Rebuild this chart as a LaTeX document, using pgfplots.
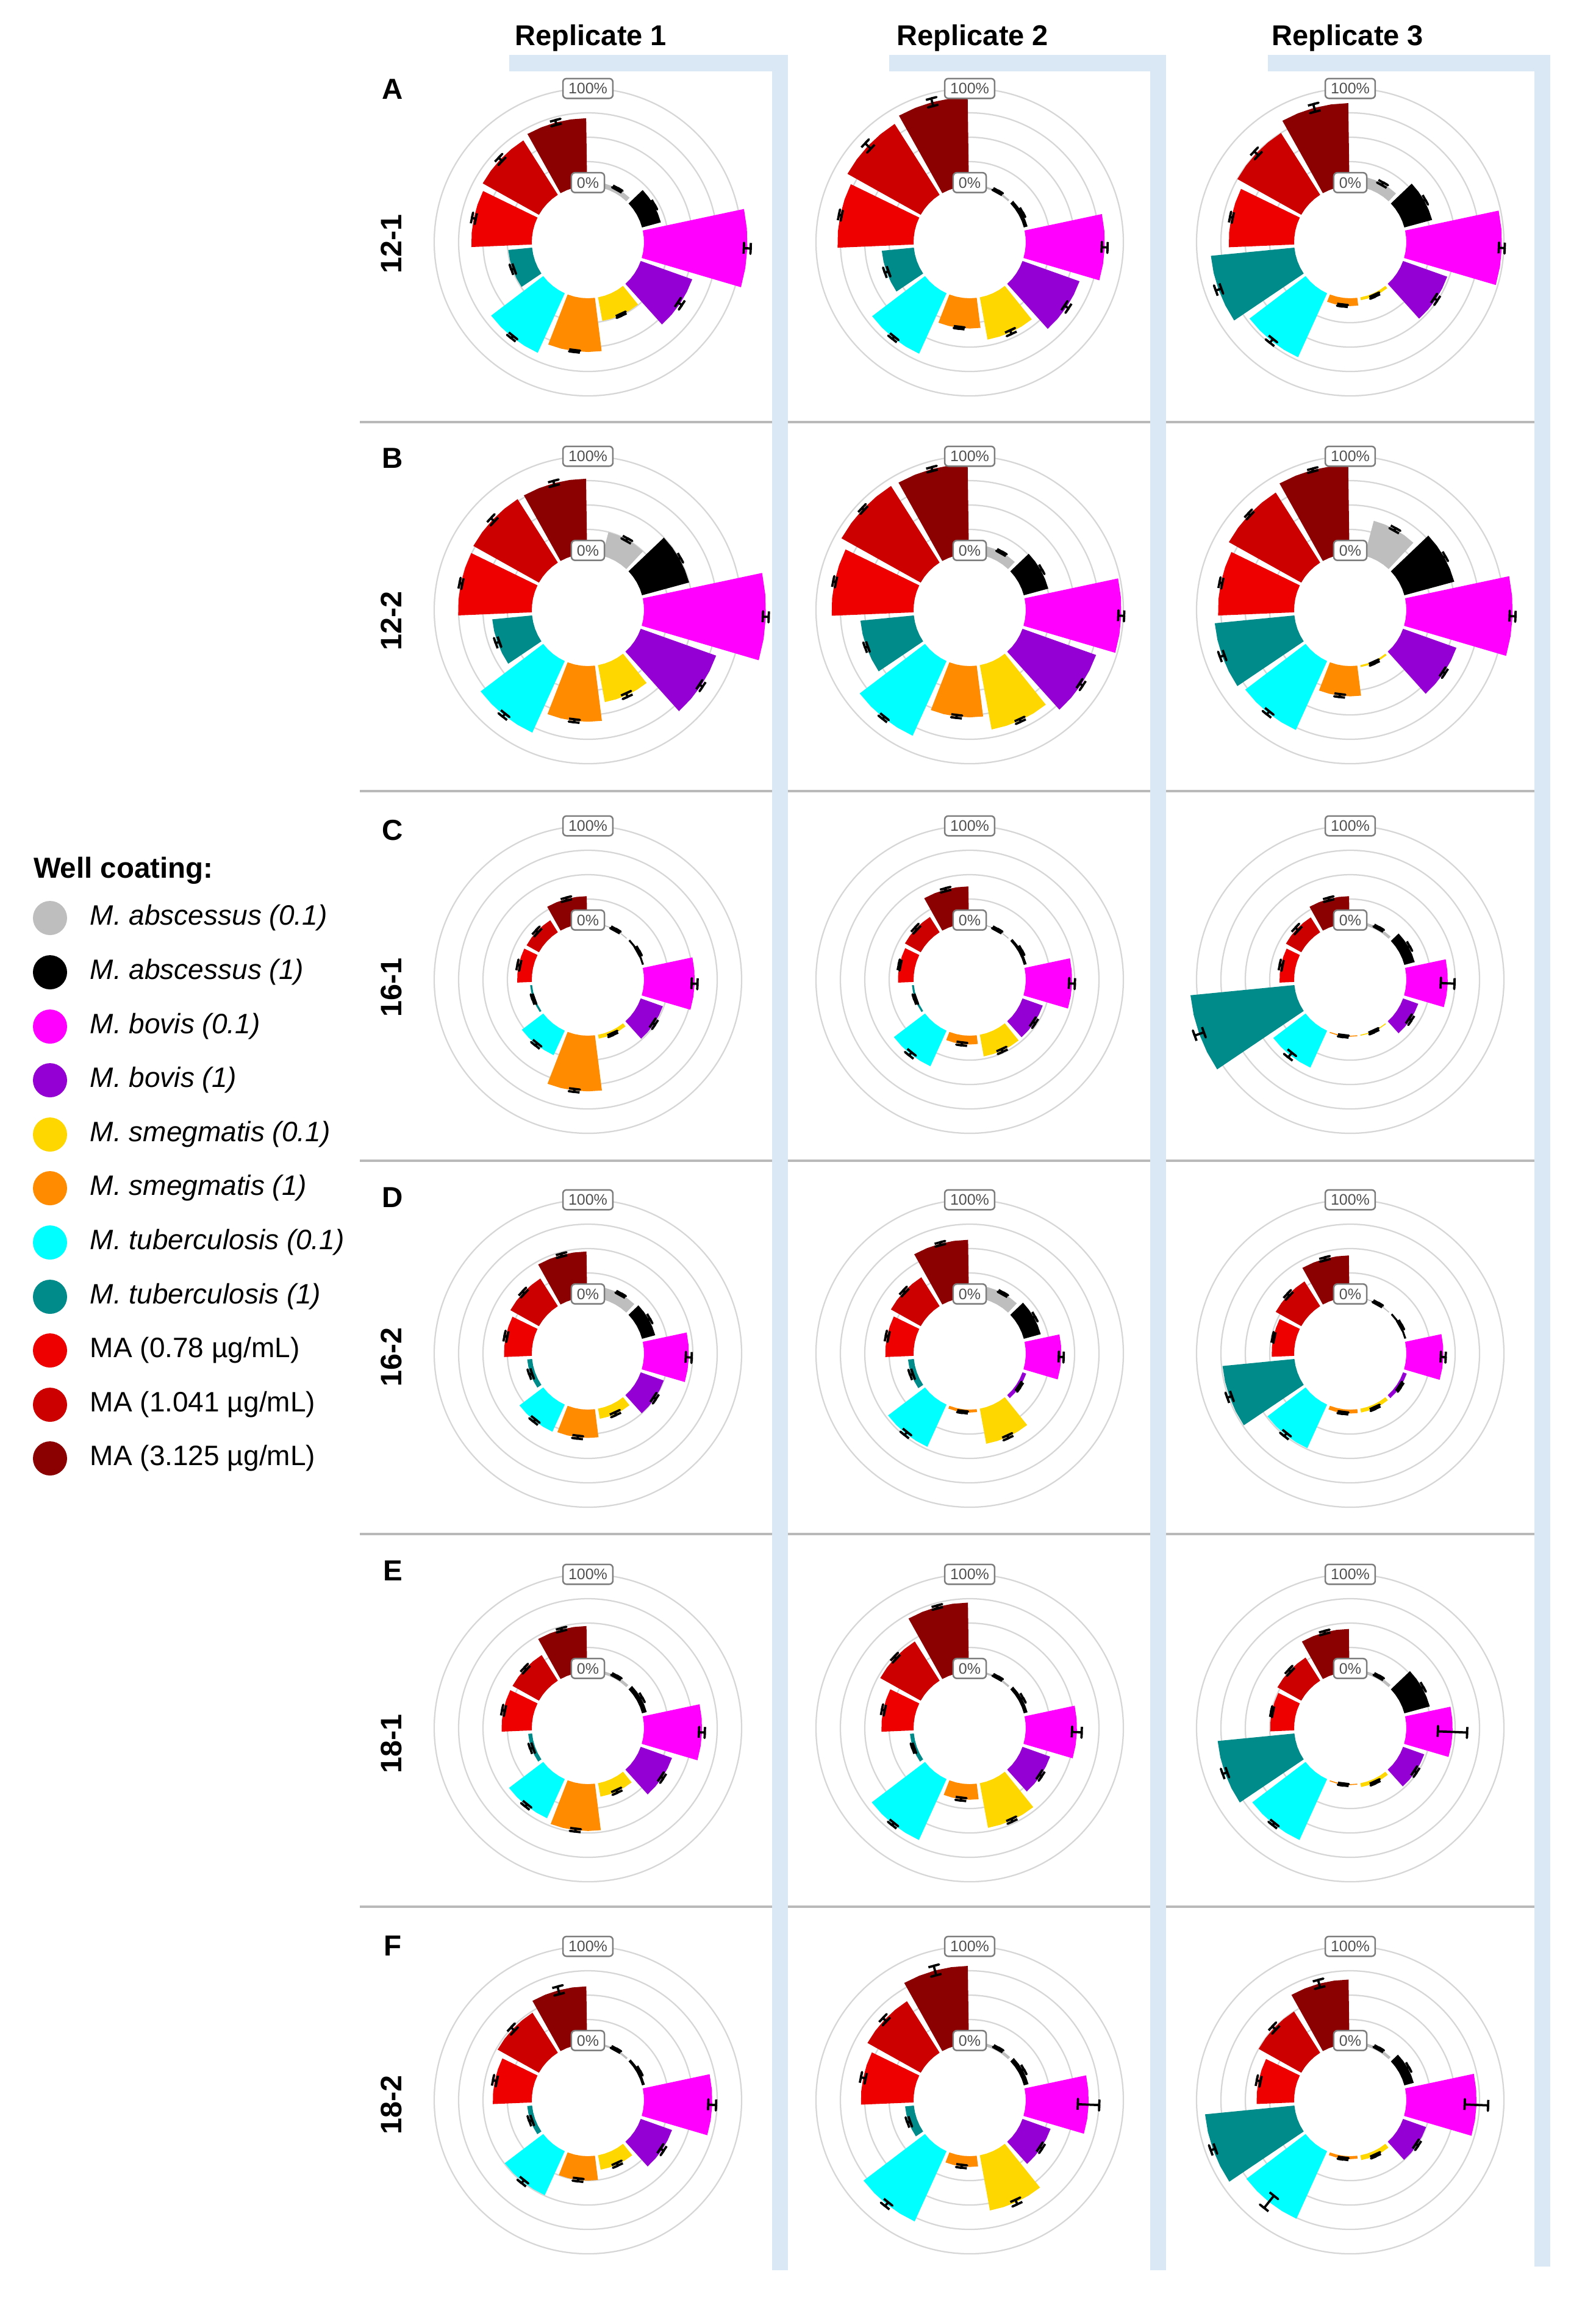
\documentclass[border=0pt]{standalone}
\usepackage{fontspec}
\setmainfont{Liberation Sans}
\usepackage{pgfplots}
\pgfplotsset{compat=1.18}
\usepgfplotslibrary{polar}

\definecolor{c0}{RGB}{190,190,190}
\definecolor{c1}{RGB}{0,0,0}
\definecolor{c2}{RGB}{255,0,255}
\definecolor{c3}{RGB}{148,0,211}
\definecolor{c4}{RGB}{255,215,0}
\definecolor{c5}{RGB}{255,140,0}
\definecolor{c6}{RGB}{0,255,255}
\definecolor{c7}{RGB}{0,139,139}
\definecolor{c8}{RGB}{238,0,0}
\definecolor{c9}{RGB}{205,0,0}
\definecolor{c10}{RGB}{139,0,0}
\definecolor{gridgray}{RGB}{214,214,214}
\definecolor{bandblue}{RGB}{218,231,245}
\definecolor{sepgray}{RGB}{185,185,185}
\definecolor{lblgray}{RGB}{125,125,125}
\definecolor{lbltext}{RGB}{80,80,80}

\tikzset{lblbox/.style={draw=lblgray, line width=0.5pt, rounded corners=1.2pt, fill=white,
  text=lbltext, font=\fontsize{5}{6}\selectfont, inner xsep=1.8pt, inner ysep=0pt, minimum height=6.5pt}}

\pgfplotsset{pstyle/.style={
  scale only axis, width=100.8pt, height=100.8pt,
  xmin=0, xmax=360, ymin=0, ymax=157.5, enlargelimits=false,
  xtick=\empty, ytick={82.5,107.5,132.5,157.5}, yticklabels={},
  xmajorgrids=false, ymajorgrids=true,
  major grid style={draw=gridgray, line width=0.45pt},
  axis line style={draw=none}, tick style={draw=none},
  clip=false, anchor=origin}}

% wedge + error bar: #1 category index, #2 value (%), #3 error (%)
\newcommand{\wb}[3]{%
  \pgfmathsetmacro\angC{421-31.6*#1}%
  \pgfmathsetmacro\angA{\angC-14.2}%
  \pgfmathsetmacro\angB{\angC-7.1}%
  \pgfmathsetmacro\angD{\angC+7.1}%
  \pgfmathsetmacro\angE{\angC+14.2}%
  \pgfmathsetmacro\rOut{57.5+#2}%
  \addplot[draw=none, fill=c#1, mark=none] coordinates {(\angA,57.5) (\angA,\rOut) (\angB,\rOut) (\angC,\rOut) (\angD,\rOut) (\angE,\rOut) (\angE,57.5) (\angD,57.5) (\angC,57.5) (\angB,57.5)} -- cycle;
  \pgfmathsetmacro\rLo{57.5+#2-#3}%
  \pgfmathsetmacro\rHi{57.5+#2+#3}%
  \pgfmathsetmacro\cLa{\angC-322/\rLo}%
  \pgfmathsetmacro\cLb{\angC+322/\rLo}%
  \pgfmathsetmacro\cHa{\angC-322/\rHi}%
  \pgfmathsetmacro\cHb{\angC+322/\rHi}%
  \addplot[black, line width=0.75pt, line join=round, mark=none] coordinates {(\cLa,\rLo) (\cLb,\rLo) (\angC,\rLo) (\angC,\rHi) (\cHa,\rHi) (\cHb,\rHi)};
}
\newcommand{\lbls}{%
  \node[lblbox] at (axis cs:90,157.5) {100\%};
  \node[lblbox] at (axis cs:90,61) {0\%};}

\begin{document}
\begin{tikzpicture}
% ---------- decorations and text ----------
\begin{scope}[x=0.2pt, y=-0.2pt]
\fill[sepgray] (590,690) rectangle (2530,694);
\fill[sepgray] (590,1295) rectangle (2530,1299);
\fill[sepgray] (590,1901) rectangle (2530,1905);
\fill[sepgray] (590,2513) rectangle (2530,2517);
\fill[sepgray] (590,3124) rectangle (2530,3128);
\fill[bandblue] (835,90) rectangle (1292,117);
\fill[bandblue] (1266,90) rectangle (1292,3722);
\fill[bandblue] (1458,90) rectangle (1912,117);
\fill[bandblue] (1886,90) rectangle (1912,3722);
\fill[bandblue] (2079,90) rectangle (2542,117);
\fill[bandblue] (2516,90) rectangle (2542,3716);
\node[font=\bfseries\fontsize{9.4}{11}\selectfont, anchor=base] at (969,74) {Replicate 1};
\node[font=\bfseries\fontsize{9.4}{11}\selectfont, anchor=base] at (1595,74) {Replicate 2};
\node[font=\bfseries\fontsize{9.4}{11}\selectfont, anchor=base] at (2210,74) {Replicate 3};
\node[font=\bfseries\fontsize{9.5}{11}\selectfont] at (644,146) {A};
\node[font=\bfseries\fontsize{9.5}{11}\selectfont] at (644,751) {B};
\node[font=\bfseries\fontsize{9.5}{11}\selectfont] at (644,1361) {C};
\node[font=\bfseries\fontsize{9.5}{11}\selectfont] at (644,1963) {D};
\node[font=\bfseries\fontsize{9.5}{11}\selectfont] at (644,2575) {E};
\node[font=\bfseries\fontsize{9.5}{11}\selectfont] at (644,3190) {F};
\node[rotate=90, font=\bfseries\fontsize{9.7}{11}\selectfont] at (642,400) {12-1};
\node[rotate=90, font=\bfseries\fontsize{9.7}{11}\selectfont] at (642,1018) {12-2};
\node[rotate=90, font=\bfseries\fontsize{9.7}{11}\selectfont] at (642,1619) {16-1};
\node[rotate=90, font=\bfseries\fontsize{9.7}{11}\selectfont] at (642,2225) {16-2};
\node[rotate=90, font=\bfseries\fontsize{9.7}{11}\selectfont] at (642,2859) {18-1};
\node[rotate=90, font=\bfseries\fontsize{9.7}{11}\selectfont] at (642,3451) {18-2};
\node[anchor=west, inner sep=0pt, font=\bfseries\fontsize{9.5}{11}\selectfont] at (54,1427) {Well coating:};
\node[anchor=west, inner sep=0pt, font=\itshape\fontsize{9.2}{11}\selectfont] at (147,1505) {M. abscessus (0.1)};
\node[anchor=west, inner sep=0pt, font=\itshape\fontsize{9.2}{11}\selectfont] at (147,1594) {M. abscessus (1)};
\node[anchor=west, inner sep=0pt, font=\itshape\fontsize{9.2}{11}\selectfont] at (147,1683) {M. bovis (0.1)};
\node[anchor=west, inner sep=0pt, font=\itshape\fontsize{9.2}{11}\selectfont] at (147,1771) {M. bovis (1)};
\node[anchor=west, inner sep=0pt, font=\itshape\fontsize{9.2}{11}\selectfont] at (147,1860) {M. smegmatis (0.1)};
\node[anchor=west, inner sep=0pt, font=\itshape\fontsize{9.2}{11}\selectfont] at (147,1948) {M. smegmatis (1)};
\node[anchor=west, inner sep=0pt, font=\itshape\fontsize{9.2}{11}\selectfont] at (147,2037) {M. tuberculosis (0.1)};
\node[anchor=west, inner sep=0pt, font=\itshape\fontsize{9.2}{11}\selectfont] at (147,2126) {M. tuberculosis (1)};
\node[anchor=west, inner sep=0pt, font=\fontsize{9.2}{11}\selectfont] at (147,2214) {MA (0.78 µg/mL)};
\node[anchor=west, inner sep=0pt, font=\fontsize{9.2}{11}\selectfont] at (147,2303) {MA (1.041 µg/mL)};
\node[anchor=west, inner sep=0pt, font=\fontsize{9.2}{11}\selectfont] at (147,2391) {MA (3.125 µg/mL)};
\end{scope}

% ---------- legend markers ----------
\begin{axis}[x=0.2pt, y=0.2pt, y dir=reverse, xmin=0, xmax=2617, ymin=0, ymax=3779,
  hide axis, clip=false, anchor=origin, at={(0pt,0pt)}]
\addplot[only marks, mark=*, mark size=5.4pt, color=c0] coordinates {(82,1505)};
\addplot[only marks, mark=*, mark size=5.4pt, color=c1] coordinates {(82,1594)};
\addplot[only marks, mark=*, mark size=5.4pt, color=c2] coordinates {(82,1683)};
\addplot[only marks, mark=*, mark size=5.4pt, color=c3] coordinates {(82,1771)};
\addplot[only marks, mark=*, mark size=5.4pt, color=c4] coordinates {(82,1860)};
\addplot[only marks, mark=*, mark size=5.4pt, color=c5] coordinates {(82,1948)};
\addplot[only marks, mark=*, mark size=5.4pt, color=c6] coordinates {(82,2037)};
\addplot[only marks, mark=*, mark size=5.4pt, color=c7] coordinates {(82,2126)};
\addplot[only marks, mark=*, mark size=5.4pt, color=c8] coordinates {(82,2214)};
\addplot[only marks, mark=*, mark size=5.4pt, color=c9] coordinates {(82,2303)};
\addplot[only marks, mark=*, mark size=5.4pt, color=c10] coordinates {(82,2391)};
\end{axis}

% ---------- Row A (12-1) ----------
\begin{polaraxis}[pstyle, at={(192.8pt,-79.4pt)}]
\wb{0}{5}{1}\wb{1}{20}{1}\wb{2}{106}{3.5}\wb{3}{56}{2.5}\wb{4}{24.5}{1}\wb{5}{55}{1}
\wb{6}{67}{1.5}\wb{7}{24.5}{1.5}\wb{8}{62}{2}\wb{9}{66}{2.5}\wb{10}{69.5}{2.5}
\lbls
\end{polaraxis}
\begin{polaraxis}[pstyle, at={(318pt,-79.4pt)}]
\wb{0}{2}{1}\wb{1}{4}{1}\wb{2}{81}{3}\wb{3}{62}{2.5}\wb{4}{44}{2}\wb{5}{31}{1}
\wb{6}{68}{1.5}\wb{7}{33}{2}\wb{8}{78}{1.5}\wb{9}{86}{4}\wb{10}{91}{4}
\lbls
\end{polaraxis}
\begin{polaraxis}[pstyle, at={(442.8pt,-79.4pt)}]
\wb{0}{11}{1.5}\wb{1}{29.5}{1.5}\wb{2}{98}{3}\wb{3}{48}{2}\wb{4}{3}{1}\wb{5}{8}{1}
\wb{6}{72}{2.5}\wb{7}{86}{3}\wb{8}{67}{1.5}\wb{9}{75}{3}\wb{10}{85}{4}
\lbls
\end{polaraxis}

% ---------- Row B (12-2) ----------
\begin{polaraxis}[pstyle, at={(192.8pt,-200pt)}]
\wb{0}{25}{1.5}\wb{1}{50}{1.5}\wb{2}{125}{3}\wb{3}{82}{2}\wb{4}{38.5}{2}\wb{5}{57}{1.5}
\wb{6}{80.5}{2}\wb{7}{41}{2}\wb{8}{75.5}{1.5}\wb{9}{77}{2.5}\wb{10}{77}{2.5}
\lbls
\end{polaraxis}
\begin{polaraxis}[pstyle, at={(318pt,-200pt)}]
\wb{0}{10}{1}\wb{1}{26}{1.5}\wb{2}{98}{3}\wb{3}{80}{2}\wb{4}{67}{1.5}\wb{5}{52.5}{1.5}
\wb{6}{84}{1.5}\wb{7}{55}{1.5}\wb{8}{84}{1.5}\wb{9}{93}{1.5}\wb{10}{92}{2}
\lbls
\end{polaraxis}
\begin{polaraxis}[pstyle, at={(442.8pt,-200pt)}]
\wb{0}{37}{1.5}\wb{1}{53}{1.5}\wb{2}{109}{3}\wb{3}{58}{1.5}\wb{4}{2}{1}\wb{5}{31}{1.5}
\wb{6}{77.5}{2}\wb{7}{82}{2.5}\wb{8}{78}{1.5}\wb{9}{85}{1.5}\wb{10}{91}{1.5}
\lbls
\end{polaraxis}

% ---------- Row C (16-1) ----------
\begin{polaraxis}[pstyle, at={(192.8pt,-321.2pt)}]
\wb{0}{1}{1}\wb{1}{2}{1}\wb{2}{52}{3}\wb{3}{24}{1.5}\wb{4}{4}{1}\wb{5}{57}{1.5}
\wb{6}{27.5}{1.5}\wb{7}{2}{1}\wb{8}{15}{1.5}\wb{9}{14.5}{1.5}\wb{10}{28}{1.5}
\lbls
\end{polaraxis}
\begin{polaraxis}[pstyle, at={(318pt,-321.2pt)}]
\wb{0}{1}{1}\wb{1}{3}{1}\wb{2}{47.5}{3}\wb{3}{22}{1.5}\wb{4}{22.5}{1.5}\wb{5}{9}{1.5}
\wb{6}{40}{2}\wb{7}{2}{1}\wb{8}{16}{1}\wb{9}{18.5}{1.5}\wb{10}{38}{1.5}
\lbls
\end{polaraxis}
\begin{polaraxis}[pstyle, at={(442.8pt,-321.2pt)}]
\wb{0}{3}{1}\wb{1}{11}{1.5}\wb{2}{42.5}{7}\wb{3}{16.5}{1.5}\wb{4}{1}{1}\wb{5}{1}{1}
\wb{6}{41.5}{3}\wb{7}{107}{5}\wb{8}{15}{1.5}\wb{9}{18}{2}\wb{10}{28}{1.5}
\lbls
\end{polaraxis}

% ---------- Row D (16-2) ----------
\begin{polaraxis}[pstyle, at={(192.8pt,-443.8pt)}]
\wb{0}{12}{1}\wb{1}{14}{1.5}\wb{2}{46}{3}\wb{3}{25}{1.5}\wb{4}{10.5}{1.5}\wb{5}{29}{1.5}
\wb{6}{30.5}{1.5}\wb{7}{5}{1.5}\wb{8}{28.5}{1.5}\wb{9}{33.5}{1.5}\wb{10}{47}{1.5}
\lbls
\end{polaraxis}
\begin{polaraxis}[pstyle, at={(318pt,-443.8pt)}]
\wb{0}{13}{1}\wb{1}{18}{1.5}\wb{2}{36.5}{2.5}\wb{3}{4}{1}\wb{4}{36.5}{1.5}\wb{5}{3}{1}
\wb{6}{47.5}{2}\wb{7}{6}{1.5}\wb{8}{29}{1.5}\wb{9}{35}{1.5}\wb{10}{59}{1.5}
\lbls
\end{polaraxis}
\begin{polaraxis}[pstyle, at={(442.8pt,-443.8pt)}]
\wb{0}{1}{1}\wb{1}{2}{1}\wb{2}{38}{2.5}\wb{3}{4}{1}\wb{4}{4}{1}\wb{5}{4}{1}
\wb{6}{49}{2}\wb{7}{74}{2.5}\wb{8}{23}{1}\wb{9}{30}{1.5}\wb{10}{43}{1.5}
\lbls
\end{polaraxis}

% ---------- Row E (18-1) ----------
\begin{polaraxis}[pstyle, at={(192.8pt,-566.6pt)}]
\wb{0}{3}{1}\wb{1}{5}{1.5}\wb{2}{59.5}{3}\wb{3}{34}{1.5}\wb{4}{14}{1.5}\wb{5}{48}{1.5}
\wb{6}{44}{1.5}\wb{7}{4}{1.5}\wb{8}{31}{1.5}\wb{9}{31}{1.5}\wb{10}{47}{1.5}
\lbls
\end{polaraxis}
\begin{polaraxis}[pstyle, at={(318pt,-566.6pt)}]
\wb{0}{2}{1}\wb{1}{4}{1.5}\wb{2}{52.5}{5}\wb{3}{30}{1.5}\wb{4}{46.5}{1.5}\wb{5}{16}{1.5}
\wb{6}{68.5}{1.5}\wb{7}{4}{1}\wb{8}{33}{1.5}\wb{9}{47.5}{1.5}\wb{10}{71}{1.5}
\lbls
\end{polaraxis}
\begin{polaraxis}[pstyle, at={(442.8pt,-566.6pt)}]
\wb{0}{3}{1}\wb{1}{27}{1.5}\wb{2}{47.5}{15}\wb{3}{23}{1.5}\wb{4}{4}{1}\wb{5}{1}{1}
\wb{6}{68.5}{1.5}\wb{7}{79}{2.5}\wb{8}{24.5}{1}\wb{9}{28}{1.5}\wb{10}{44}{1.5}
\lbls
\end{polaraxis}

% ---------- Row F (18-2) ----------
\begin{polaraxis}[pstyle, at={(192.8pt,-688.6pt)}]
\wb{0}{2}{1}\wb{1}{3}{1}\wb{2}{70}{4}\wb{3}{34}{2}\wb{4}{15}{1.5}\wb{5}{25}{1.5}
\wb{6}{49.5}{2}\wb{7}{5}{1.5}\wb{8}{40}{2}\wb{9}{48.5}{2.5}\wb{10}{59}{4}
\lbls
\end{polaraxis}
\begin{polaraxis}[pstyle, at={(318pt,-688.6pt)}]
\wb{0}{3}{1}\wb{1}{5}{1.5}\wb{2}{64.5}{11}\wb{3}{30.5}{1.5}\wb{4}{57.5}{2.5}\wb{5}{11}{1.5}
\wb{6}{79}{2.5}\wb{7}{9}{1.5}\wb{8}{54}{2.5}\wb{9}{62.5}{2.5}\wb{10}{80}{5}
\lbls
\end{polaraxis}
\begin{polaraxis}[pstyle, at={(442.8pt,-688.6pt)}]
\wb{0}{3}{1}\wb{1}{10}{1.5}\wb{2}{72}{12}\wb{3}{25}{1.5}\wb{4}{5}{1}\wb{5}{3}{1}
\wb{6}{76}{8}\wb{7}{92}{2.5}\wb{8}{38.5}{2}\wb{9}{50}{2.5}\wb{10}{66}{4}
\lbls
\end{polaraxis}

\pgfresetboundingbox
\path (0pt,0pt) rectangle (523.4pt,-755.8pt);
\end{tikzpicture}
\end{document}
